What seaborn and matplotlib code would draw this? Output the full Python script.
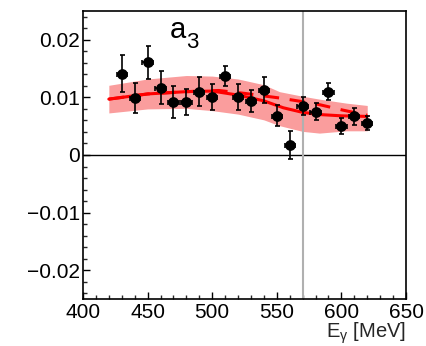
import numpy as np
import pandas as pd
import matplotlib
matplotlib.use("Agg")
import matplotlib.pyplot as plt
from matplotlib.ticker import MultipleLocator, FuncFormatter
import seaborn as sns

# ---- data ----
energy = [430, 440, 450, 460, 470, 480, 490, 500, 510, 520,
          530, 540, 550, 560, 570, 580, 590, 600, 610, 620]
a3 = [0.0141, 0.0099, 0.0161, 0.0117, 0.0092, 0.0092, 0.0110, 0.0101, 0.0137, 0.0101,
      0.0093, 0.0113, 0.0068, 0.0017, 0.0085, 0.0075, 0.0110, 0.0051, 0.0067, 0.0056]
a3_err = [0.0032, 0.0026, 0.0029, 0.0029, 0.0027, 0.0022, 0.0025, 0.0023, 0.0018, 0.0023,
          0.0019, 0.0022, 0.0018, 0.0024, 0.0016, 0.0015, 0.0015, 0.0014, 0.0015, 0.0012]
e_err = 4

band_e = [420, 450, 480, 500, 520, 540, 552, 570, 583, 604, 620]
band_hi = [0.0121, 0.0132, 0.0138, 0.0137, 0.0132, 0.0122, 0.0110, 0.0102, 0.0097, 0.0090, 0.0086]
band_lo = [0.0073, 0.0080, 0.0081, 0.0077, 0.0071, 0.0061, 0.0051, 0.0041, 0.0038, 0.0042, 0.0042]

fit_e = [420, 450, 480, 500, 520, 540, 555, 570, 585, 600, 620]
fit_solid = [0.0097, 0.0106, 0.0110, 0.0111, 0.0104, 0.0094, 0.0082, 0.0074, 0.0070, 0.0068, 0.0067]

dash_e = [420, 450, 480, 505, 525, 552, 580, 601, 620]
fit_dash = [0.0097, 0.0106, 0.0110, 0.0112, 0.0107, 0.0099, 0.0089, 0.0078, 0.0069]

vline_e = 570
panel_main = "a"
panel_sub = "3"
x_label = r"E$_{\gamma}$ [MeV]"

# ---- styling ----
sns.set_theme(style="ticks")
plt.rcParams["font.family"] = ["Liberation Sans", "DejaVu Sans"]
plt.rcParams["mathtext.fontset"] = "custom"
plt.rcParams["mathtext.rm"] = "Liberation Sans"
plt.rcParams["mathtext.it"] = "Liberation Sans:italic"
plt.rcParams["mathtext.default"] = "regular"

fig = plt.figure(figsize=(4.26, 3.46), dpi=100)
ax = fig.add_axes([83/426, 47/346, 323/426, 288/346])

# band
ax.fill_between(band_e, band_lo, band_hi, color="#fa9d9d", lw=0, zorder=1)

df_dash = pd.DataFrame({"E": dash_e, "v": fit_dash})
df_solid = pd.DataFrame({"E": fit_e, "v": fit_solid})
sns.lineplot(data=df_dash, x="E", y="v", ax=ax, color="#ff0000", lw=2.2,
             dashes=False, zorder=2).lines[-1].set_dashes((5, 3.5))
sns.lineplot(data=df_solid, x="E", y="v", ax=ax, color="#ff0000", lw=2.2, zorder=3)

ax.axhline(0, color="black", lw=1.0, zorder=2)
ax.axvline(vline_e, color="#b0b0b0", lw=1.5, zorder=2)

ax.errorbar(energy, a3, yerr=a3_err, xerr=e_err, fmt="none", ecolor="black",
            elinewidth=1.2, capsize=1.8, capthick=1.2, zorder=4)
df_pts = pd.DataFrame({"E": energy, "a3": a3})
sns.scatterplot(data=df_pts, x="E", y="a3", ax=ax, color="black", s=60,
                edgecolor="black", linewidth=0, zorder=5)

ax.set_xlim(400, 650)
ax.set_ylim(-0.025, 0.025)
ax.xaxis.set_major_locator(MultipleLocator(50))
ax.xaxis.set_minor_locator(MultipleLocator(10))
ax.yaxis.set_major_locator(MultipleLocator(0.01))
ax.yaxis.set_minor_locator(MultipleLocator(0.002))

def yfmt(v, pos):
    if abs(v) < 1e-9:
        return "0"
    s = f"{v:.2f}"
    return s.replace("-", "\u2212")

ax.yaxis.set_major_formatter(FuncFormatter(yfmt))
ax.tick_params(axis="both", which="major", direction="in", length=5, width=1,
               labelsize=15, colors="black", pad=2)
ax.tick_params(axis="both", which="minor", direction="in", length=3, width=1)
ax.tick_params(axis="x", which="major", pad=3)

for sp in ax.spines.values():
    sp.set_visible(True)
    sp.set_color("black")
    sp.set_linewidth(1.2)

ax.set_ylabel("")
ax.set_xlabel(x_label, fontsize=14.5, loc="right", labelpad=-1)

ax.text(0.269, 0.906, panel_main, transform=ax.transAxes, fontsize=21,
        ha="left", va="baseline", color="black")
ax.text(0.318, 0.873, panel_sub, transform=ax.transAxes, fontsize=16,
        ha="left", va="baseline", color="black")

fig.savefig("out.png", dpi=100)
